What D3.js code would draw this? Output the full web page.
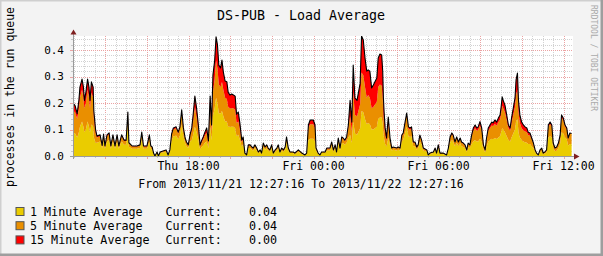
<!DOCTYPE html>
<html><head><meta charset="utf-8">
<script src="https://cdn.jsdelivr.net/npm/d3@7"></script>
<style>
body{margin:0;background:#f3f3f3}
svg{display:block}
text{font-family:"DejaVu Sans Mono",monospace;white-space:pre}
</style>
</head><body>
<svg id="chart" width="603" height="256"></svg>
<script>
const chartTitle = "DS-PUB - Load Average";
const yAxisLabel = "processes in the run queue";
const rangeLabel = "From 2013/11/21 12:27:16 To 2013/11/22 12:27:16";
const watermark = "RRDTOOL / TOBI OETIKER";
const startTime = new Date(2013, 10, 21, 12, 27, 16);
const endTime = new Date(2013, 10, 22, 12, 27, 16);
const seriesNames = ["1 Minute Average", "5 Minute Average", "15 Minute Average"];
const currentLabel = "Current:";
const currentValues = ["0.04", "0.04", "0.00"];
const yTickValues = [0, 0.1, 0.2, 0.3, 0.4];

// minutes after start time
const minutes = [
0,6,12,17,20,26,30,33,37,42, 46,49,53,58,60,65,
69,78,84,88,92,98,104,109,115,121, 127,132,140,147,153,158,161,170,184,193,
198,203,213,220,224,228,232,236,242,246, 251,259,268,274,279,284,289,297,303,308,
313,318,323,327,332,337,
342,346,351,356,361,366,371,375,380,385, 390,395,399,403,408,412,416,420,425,429,
433,438,443,447,452,457,462,467,471,476, 481,486,490,
495,500,505,510,515,519,524,529,534,539, 543,548,553,558,562,567,572,577,582,587,
591,596,601,606,611,615,620,625,634,639, 649,659,668,673,678,683,692,697,700,706,
711,716,726,731,735,740,745,750,755,759, 764,769,774,778,783,788,793,
798,803,807,812,818,827,831,836,841,846, 850,855,860,865,875,879,884,889,892,894,
896,899,903,908,913,
918,922,932,937,942,947,951,956,961,966, 971,975,980,985,990,994,999,1004,1009,1019,
1023,1028,1038,1043,1047,1052,1057,1066,1076,1081, 1086,1091,1095,1100,1105,1110,1115,1119,1124,1129,
1134,1138,1143,
1148,1153,1158,1163,1167,1172,1177,1182,1187,1191, 1196,1201,1206,1210,1215,1220,1225,1230,1233,1236,
1239,1244,1249,1254,1259,1263,1268,1273,1276,1280, 1283,1287,1292,1297,1302,1307,1311,1316,1321,1326,
1331,1335,
1340,1345,1350,1354,1359,1364,1369,1374,1379,1383, 1388,1393,1398,1403,1407,1412,1417,1422,1426,1431,
1436
];
const load1 = [
.09,.085,.07,.09,.11,.13,.11,.09,.10,.13, .11,.09,.12,.11,.07,.05,
.05,.055,.028,.058,.027,.055,.06,.027,.055,.027, .055,.027,.055,.042,.042,.12,.035,.027,.027,.03,
.063,.027,.027,.055,.027,.024,.008,0,.011,0, .011,.013,.016,.003,.016,.058,.074,.077,.063,.077,
.12,.074,.048,.037,.03,.055,
.06,.08,.11,.09,.06,.025,.035,.04,.05,.055, .03,.11,.06,.15,.18,.22,.2,.16,.16,.17,
.15,.13,.13,.11,.11,.11,.11,.105,.075,.08, .06,.035,.045,
.008,.003,.03,.03,.024,.021,.03,.021,.011,.016, .008,.034,.024,.03,.021,.016,.03,.008,.016,.021,
.03,.011,.021,.016,.024,.05,.021,.011,.011,.008, .016,.008,.003,.008,.06,.065,.065,.055,.021,.008,
.003,.011,.011,.021,.021,.021,.037,.016,.03,.011, .048,.021,.05,.048,.042,.05,.07,
.08,.05,.13,.085,.08,.105,.17,.165,.14,.12, .125,.12,.1,.1,.11,.14,.145,.145,.12,.085,
.065,.045,.035,.07,.04,
.021,.024,.021,.024,.021,.055,.06,.085,.11,.075, .072,.075,.037,.037,.024,.03,.055,.042,.021,.016,
.003,.008,.011,.021,.008,.03,.008,.008,.003,.021, .05,.06,.055,.037,.05,.037,.048,.037,.034,.03,
.016,.034,.03,
.045,.055,.06,.055,.055,.065,.055,.025,.014,.035, .055,.06,.065,.063,.068,.064,.07,.075,.09,.105,
.1,.09,.075,.06,.055,.07,.085,.1,.13,.14, .09,.07,.06,.055,.052,.05,.045,.045,.037,.03,
.015,.008,
.003,.014,.018,.007,.009,.014,.07,.075,.07,.03, .018,.02,.03,.047,.09,.085,.07,.063,.04,.045,
.045
];
const load5 = [
.08,.08,.07,.09,.11,.12,.11,.09,.10,.12, .11,.09,.12,.11,.07,.035,
.02,.02,.01,.02,.009,.02,.022,.009,.02,.009, .02,.009,.02,.015,.015,.04,.012,.009,.009,.01,
.022,.009,.009,.02,.009,.008,.003,0,.004,0, .004,.005,.006,.001,.006,.02,.026,.027,.022,.027,
.045,.026,.017,.013,.01,.02,
.035,.05,.075,.055,.035,.012,.017,.022,.027,.033, .018,.07,.035,.09,.11,.14,.13,.11,.1,.11,
.1,.09,.085,.075,.07,.07,.07,.07,.05,.05, .037,.017,.018,
.003,.001,.01,.01,.008,.007,.01,.007,.004,.006, .003,.012,.008,.01,.007,.006,.01,.003,.006,.007,
.01,.004,.007,.006,.008,.018,.007,.004,.004,.003, .006,.003,.001,.003,.045,.055,.055,.048,.007,.003,
.001,.004,.004,.007,.007,.007,.013,.006,.01,.004, .017,.007,.018,.017,.015,.018,.035,
.07,.042,.11,.07,.07,.09,.145,.14,.12,.1, .105,.1,.08,.085,.095,.12,.125,.12,.1,.07,
.053,.035,.022,.05,.02,
.007,.008,.007,.008,.007,.02,.022,.032,.042,.028, .027,.028,.013,.013,.008,.01,.02,.015,.007,.006,
.001,.003,.004,.007,.003,.01,.003,.003,.001,.007, .018,.022,.02,.013,.018,.013,.017,.013,.012,.01,
.006,.012,.01,
.028,.04,.045,.04,.043,.05,.04,.014,.008,.027, .04,.045,.05,.049,.053,.05,.057,.062,.07,.085,
.08,.075,.06,.045,.04,.055,.07,.085,.1,.11, .075,.055,.045,.042,.04,.04,.033,.032,.025,.016,
.007,.003,
.001,.008,.01,.004,.005,.008,.04,.045,.04,.017, .01,.012,.017,.028,.055,.05,.04,.037,.024,.04,
.04
];
const load15 = [
.03,.025,.02,.03,.04,.04,.04,.03,.04,.04, .04,.03,.04,.04,.03,.015,
.005,.005,.002,.005,.002,.005,.005,.002,.005,.002, .005,.002,.005,.003,.003,.006,.003,.002,.002,.002,
.005,.002,.002,.005,.002,.002,0,0,0,0, 0,.001,.001,0,.001,.005,.006,.006,.005,.006,
.009,.006,.003,.003,.002,.005,
.011,.025,.041,.035,.022,.005,.008,.01,.013,.018, .009,.046,.022,.065,.07,.09,.09,.073,.072,.082,
.067,.063,.065,.055,.05,.054,.05,.051,.033,.036, .023,.008,.009,
0,0,.002,.002,.002,.002,.002,.002,0,.001, 0,.003,.002,.002,.002,.001,.002,0,.001,.002,
.002,0,.002,.001,.002,.004,.002,0,0,0, .001,0,0,0,.012,.016,.016,.014,.002,0,
0,0,0,.002,.002,.002,.003,.001,.002,0, .003,.002,.004,.003,.003,.004,.012,
.06,.036,.103,.064,.06,.08,.138,.133,.11,.1, .095,.1,.077,.083,.089,.11,.115,.116,.1,.064,
.048,.026,.011,.027,.008,
.002,.002,.002,.002,.002,.004,.005,.008,.01,.007, .007,.007,.003,.003,.002,.002,.004,.003,.002,.001,
0,0,0,.002,0,.002,0,0,0,.002, .004,.005,.004,.003,.004,.003,.003,.003,.003,.002,
.001,.003,.002,
.006,.011,.012,.011,.012,.015,.011,.003,.001,.006, .011,.012,.013,.013,.015,.014,.016,.018,.025,.033,
.03,.027,.02,.012,.011,.018,.026,.034,.057,.063, .045,.03,.023,.02,.018,.016,.012,.01,.006,.003,
.001,0,
0,.001,.002,0,.001,.001,.007,.008,.007,.002, .002,.002,.002,.004,.01,.008,.007,.006,.004,.002,
0
];

const colors = ["#EACC00", "#EA8F00", "#FF0000"];
const W = 603, H = 256;
const plot = {left: 73, right: 573, top: 36, bottom: 156};

const svg = d3.select("#chart");

// background + 3D frame
svg.append("rect").attr("x",0).attr("y",0).attr("width",W).attr("height",H).attr("fill","#f3f3f3");
svg.append("path").attr("d",`M0,${H} V0 H${W}`).attr("stroke","#cfcfcf").attr("stroke-width",3).attr("fill","none");
svg.append("path").attr("d",`M0,${H-1} H${W-1} V0`).attr("stroke","#9e9e9e").attr("stroke-width",3).attr("fill","none");

const x = d3.scaleTime().domain([startTime, endTime]).range([plot.left, plot.right]);
const yMax = (plot.bottom - plot.top) / 265;
const y = d3.scaleLinear().domain([0, yMax]).range([plot.bottom, plot.top]);

// canvas
svg.append("rect").attr("x",plot.left).attr("y",plot.top)
  .attr("width",plot.right-plot.left).attr("height",plot.bottom-plot.top).attr("fill","#ffffff");

const grid = svg.append("g").attr("shape-rendering","crispEdges");
const px = v => Math.round(v) + 0.5;

// vertical grid
const halfHours = x.ticks(d3.timeMinute.every(30));
halfHours.forEach(t => {
  const major = t.getMinutes() === 0 && t.getHours() % 2 === 0;
  const xx = px(x(t));
  if (xx <= plot.left + 1) return;
  grid.append("line").attr("x1",xx).attr("x2",xx).attr("y1",plot.top).attr("y2",plot.bottom)
    .attr("stroke", major ? "#eba3a3" : "#d2d2d2").attr("stroke-dasharray","1,1");
  grid.append("line").attr("x1",xx).attr("x2",xx).attr("y1",plot.bottom).attr("y2",plot.bottom+(major?3:2))
    .attr("stroke", major ? "#eba3a3" : "#c8c8c8");
});
// horizontal grid
d3.range(1, 23).forEach(k => {
  const v = k * 0.02;
  const major = k % 5 === 0;
  const yy = px(y(v));
  grid.append("line").attr("x1",plot.left).attr("x2",plot.right).attr("y1",yy).attr("y2",yy)
    .attr("stroke", major ? "#eba3a3" : "#d2d2d2").attr("stroke-dasharray","1,1");
  grid.append("line").attr("x1",plot.left-(major?3:2)).attr("x2",plot.left).attr("y1",yy).attr("y2",yy)
    .attr("stroke", major ? "#eba3a3" : "#c8c8c8");
});

// data
const rows = minutes.map((m, i) => ({
  t: new Date(startTime.getTime() + m * 60000),
  l1: load1[i], l5: load5[i], l15: load15[i]
}));
const stack = d3.stack().keys(["l1", "l5", "l15"]);
const layers = stack(rows);

svg.append("clipPath").attr("id","clip").append("rect")
  .attr("x",plot.left).attr("y",plot.top).attr("width",plot.right-plot.left).attr("height",plot.bottom-plot.top);
const g = svg.append("g").attr("clip-path","url(#clip)");

const area = d3.area().x(d => x(d.data.t)).y0(d => y(d[0])).y1(d => y(d[1]));
g.selectAll("path.layer").data(layers).join("path")
  .attr("class","layer").attr("d", area).attr("fill", (d, i) => colors[i]);

const line = d3.line().x(d => x(d.data.t)).y(d => y(d[1]));
g.append("path").datum(layers[2]).attr("d", line)
  .attr("fill","none").attr("stroke","#000").attr("stroke-width",1.1).attr("stroke-linejoin","round");

// axes
const axisColor = "#9a9a9a";
svg.append("line").attr("x1",plot.left+0.5).attr("x2",plot.left+0.5).attr("y1",plot.bottom+3).attr("y2",plot.top-2)
  .attr("stroke",axisColor);
svg.append("line").attr("x1",plot.left-3).attr("x2",plot.right+1).attr("y1",plot.bottom+0.5).attr("y2",plot.bottom+0.5)
  .attr("stroke",axisColor);
svg.append("path").attr("d",`M${plot.left-2.5},${plot.top-1.5} L${plot.left+0.5},${plot.top-6.5} L${plot.left+3.5},${plot.top-1.5} Z`)
  .attr("fill","#7f1f1f");
svg.append("path").attr("d",`M${plot.right+1},${plot.bottom-2.5} L${plot.right+6.5},${plot.bottom+0.5} L${plot.right+1},${plot.bottom+3.5} Z`)
  .attr("fill","#7f1f1f");

// y tick labels
svg.append("g").selectAll("text").data(yTickValues).join("text")
  .attr("x", 64).attr("y", d => y(d)).attr("dy","0.36em")
  .attr("text-anchor","end").attr("font-size","11px").attr("fill","#000")
  .text(d => d3.format(".1f")(d));

// x tick labels
const labelTimes = x.ticks(d3.timeHour.every(6));
const fmt = d3.timeFormat("%a %H:%M");
svg.append("g").selectAll("text").data(labelTimes).join("text")
  .attr("x", d => x(d)).attr("y", 170).attr("text-anchor","middle")
  .attr("font-size","11.5px").attr("fill","#000").text(d => fmt(d));

// title
svg.append("text").attr("x",301).attr("y",19.5).attr("text-anchor","middle")
  .attr("font-size","13.3px").attr("fill","#000").text(chartTitle);

// y axis label
svg.append("text").attr("transform","translate(13.5,97) rotate(-90)").attr("text-anchor","middle")
  .attr("font-size","11.5px").attr("fill","#000").text(yAxisLabel);

// range label
svg.append("text").attr("x",301).attr("y",187.5).attr("text-anchor","middle")
  .attr("font-size","11.5px").attr("fill","#000").text(rangeLabel);

// watermark
svg.append("text").attr("transform","translate(591,5) rotate(90)").attr("text-anchor","start")
  .attr("font-size","8px").attr("fill","#aaaaaa").text(watermark);

// legend
const legend = svg.append("g");
seriesNames.forEach((name, i) => {
  const yy = 215.5 + i * 14.2;
  legend.append("rect").attr("x",16).attr("y",yy-8).attr("width",8).attr("height",8)
    .attr("fill",colors[i]).attr("stroke","#555").attr("stroke-width",1);
  legend.append("text").attr("x",30).attr("y",yy).attr("font-size","11.7px").attr("fill","#000").text(name);
  legend.append("text").attr("x",165.5).attr("y",yy).attr("font-size","11.7px").attr("fill","#000").text(currentLabel);
  legend.append("text").attr("x",249).attr("y",yy).attr("font-size","11.7px").attr("fill","#000").text(currentValues[i]);
});
</script>
</body></html>
